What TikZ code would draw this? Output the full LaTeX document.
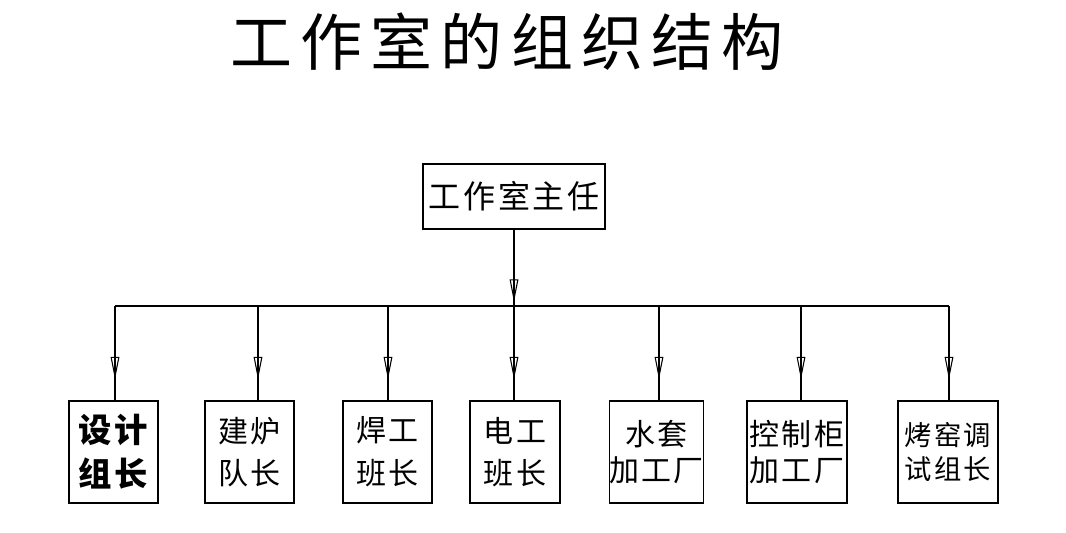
\documentclass[tikz,border=0pt]{standalone}
\usepackage{fontspec}
\setmainfont{Noto Sans CJK SC}
\newfontfamily\titlefont[LetterSpace=13]{Noto Sans CJK SC}
\newfontfamily\headfont[LetterSpace=8]{Noto Sans CJK SC}
\newfontfamily\boxfont[LetterSpace=8]{Noto Sans CJK SC}
\usetikzlibrary{arrows.meta,decorations.markings}
\tikzstyle{box} = [draw, line width=0.8pt, inner sep=0pt, align=center, minimum height=76.5pt]
\tikzstyle{link} = [line width=0.8pt]
\tikzstyle{normaltext} = [font=\boxfont\fontsize{22.5}{32}\selectfont]
\tikzstyle{smalltext} = [font=\boxfont\fontsize{20.5}{26}\selectfont]
\tikzset{midarrow/.style={postaction={decorate}, decoration={markings,
    mark=at position #1 with {\arrow{Triangle[open,length=17pt,width=6.5pt]}}}}}

\begin{document}
\begin{tikzpicture}[x=0.75pt,y=-0.75pt]
    \useasboundingbox (0,0) rectangle (1066,532);
    \node (title) at (507,42) {\titlefont\fontsize{46.5}{50}\selectfont 工作室的组织结构};
    \node[box, minimum width=136.5pt, minimum height=48.75pt,
        font=\headfont\fontsize{24}{28}\selectfont] (head) at (514,196.5) {工作室主任};
    % lower boxes
    \node[box, minimum width=66.75pt, font=\boxfont\bfseries\fontsize{25}{33}\selectfont]
        (b1) at (113.5,452) {设计\\组长};
    \node[box, minimum width=66.75pt, normaltext] (b2) at (249.5,452) {建炉\\队长};
    \node[box, minimum width=66.75pt, normaltext] (b3) at (387.5,452) {焊工\\班长};
    \node[box, minimum width=67.5pt, normaltext] (b4) at (515,452) {电工\\班长};
    \node[box, minimum width=68.25pt, font=\boxfont\fontsize{22.5}{27}\selectfont]
        (b5) at (656.5,452) {水套\\加工厂};
    \node[box, minimum width=75pt, font=\boxfont\fontsize{22.5}{27}\selectfont]
        (b6) at (797,452) {控制柜\\加工厂};
    \node[box, minimum width=75pt, smalltext] (b7) at (948,452) {烤窑调\\试组长};
    % bus and branches
    \coordinate (jtop) at (514,306);
    \foreach \n/\x in {b1/115,b2/258,b3/388,b4/514,b5/659,b6/801,b7/949}{
        \coordinate (j\n) at (\x,306);
        \draw[link, midarrow=-15.75pt] (j\n) -- (j\n |- \n.north);
    }
    \draw[link] (jb1) -- (jb7);
    \draw[link, midarrow=-3pt] (head.south) -- (jtop);
\end{tikzpicture}
\end{document}
